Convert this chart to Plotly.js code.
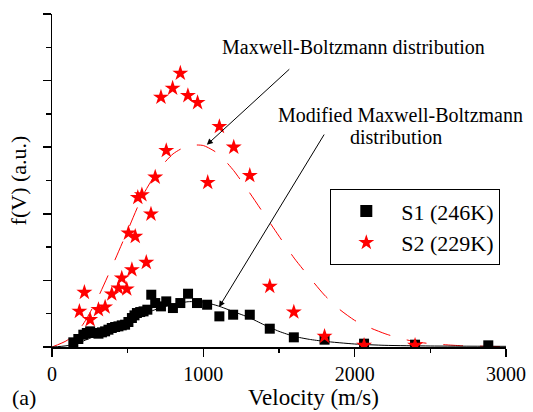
<!DOCTYPE html>
<html>
<head>
<meta charset="utf-8">
<script src="https://cdn.plot.ly/plotly-3.0.1.min.js"></script>
<style>
  html, body { margin: 0; padding: 0; background: #ffffff; }
  #chart { width: 533px; height: 412px; }
</style>
</head>
<body>
<div id="chart"></div>
<script>
// Sample S1 (246 K): velocity (m/s) and distribution value (a.u.)
const s1Velocity = [141, 174, 207, 230, 252, 280, 307, 330, 351, 373, 395, 417, 439, 461, 483, 505, 528, 545, 561, 583, 605, 630, 656, 682, 720, 755, 799, 848, 899, 958, 1025, 1106, 1197, 1307, 1439, 1598, 1801, 2062, 2399, 2883];
const s1Value    = [0.14, 0.24, 0.37, 0.42, 0.47, 0.42, 0.40, 0.44, 0.47, 0.52, 0.57, 0.60, 0.62, 0.65, 0.67, 0.75, 0.87, 0.95, 1.02, 1.05, 1.07, 1.12, 1.57, 1.32, 1.22, 1.37, 1.17, 1.32, 1.60, 1.32, 1.27, 0.92, 0.97, 0.97, 0.55, 0.29, 0.22, 0.10, 0.07, 0.05];

// Sample S2 (229 K)
const s2Velocity = [181, 214, 252, 307, 351, 395, 439, 461, 494, 505, 528, 550, 567, 594, 623, 654, 682, 720, 755, 797, 848, 898, 962, 1029, 1106, 1201, 1307, 1439, 1598, 1801, 2062, 2399];
const s2Value    = [1.07, 1.64, 0.82, 1.12, 1.20, 1.59, 1.77, 2.07, 1.74, 3.42, 2.32, 3.32, 4.49, 4.57, 2.54, 3.99, 5.10, 7.50, 5.90, 7.77, 8.22, 7.55, 7.34, 4.94, 6.62, 6.00, 5.15, 1.82, 1.05, 0.32, 0.05, 0.05];

// Modified Maxwell-Boltzmann curve fitted to S1
const modVelocity = [0, 100, 200, 300, 400, 500, 600, 700, 800, 900, 1000, 1100, 1200, 1300, 1400, 1500, 1600, 1700, 1800, 2000, 2200, 2500, 3000];
const modValue    = [0, 0.04, 0.17, 0.36, 0.57, 0.78, 0.98, 1.15, 1.28, 1.36, 1.35, 1.23, 1.06, 0.89, 0.67, 0.47, 0.32, 0.23, 0.17, 0.09, 0.05, 0.03, 0.02];

// Maxwell-Boltzmann curve for S2
const mbVelocity = [0, 100, 200, 300, 400, 500, 600, 700, 800, 900, 1000, 1100, 1200, 1300, 1400, 1500, 1600, 1700, 1800, 1900, 2000, 2100, 2200, 2300, 2400, 2500, 2700, 3000];
const mbValue    = [0, 0.2, 0.65, 1.45, 2.45, 3.5, 4.55, 5.3, 5.8, 6.05, 6.05, 5.8, 5.3, 4.67, 4.0, 3.33, 2.67, 2.1, 1.56, 1.13, 0.8, 0.58, 0.4, 0.26, 0.16, 0.1, 0.04, 0.01];

const seriesNames = ['S1 (246K)', 'S2 (229K)'];
const xTickValues = [0, 1000, 2000, 3000];
const xTickText = ['0', '1000', '2000', '3000'];

const FONT = 'Liberation Serif';

const traces = [
  {
    x: mbVelocity, y: mbValue, type: 'scatter', mode: 'lines',
    line: { color: '#ff0000', width: 1, dash: '20px,17px', shape: 'spline', smoothing: 0.6 },
    showlegend: false, hoverinfo: 'skip'
  },
  {
    x: modVelocity, y: modValue, type: 'scatter', mode: 'lines',
    line: { color: '#000000', width: 1, shape: 'spline', smoothing: 0.6 },
    showlegend: false, hoverinfo: 'skip'
  },
  {
    x: s1Velocity, y: s1Value, type: 'scatter', mode: 'markers', name: seriesNames[0],
    marker: { symbol: 'square', size: 10, color: '#000000', line: { width: 0 } }
  },
  {
    x: s2Velocity, y: s2Value, type: 'scatter', mode: 'markers', name: seriesNames[1],
    marker: { symbol: 'star', size: 12, color: '#ff0000', line: { width: 0 } }
  }
];

const layout = {
  width: 533, height: 412,
  margin: { l: 52, r: 27.3, t: 14, b: 64.7, pad: 0 },
  paper_bgcolor: '#ffffff', plot_bgcolor: '#ffffff',
  font: { family: FONT, color: '#000000', size: 20 },
  showlegend: true,
  legend: {
    x: 0.613, y: 0.474, xanchor: 'left', yanchor: 'top',
    bordercolor: '#000000', borderwidth: 1, bgcolor: '#ffffff',
    font: { family: FONT, size: 22, color: '#000000' },
    itemwidth: 60, itemsizing: 'constant', tracegroupgap: 0
  },
  xaxis: {
    range: [0, 3000], autorange: false,
    tickmode: 'array', tickvals: xTickValues, ticktext: xTickText,
    ticks: 'outside', ticklen: 8, tickwidth: 1.5, tickcolor: '#000000',
    showline: true, linewidth: 1.5, linecolor: '#000000',
    showgrid: false, zeroline: false,
    tickfont: { family: FONT, size: 20, color: '#000000' },
    minor: { tickmode: 'linear', tick0: 0, dtick: 500, ticks: 'outside', ticklen: 4, tickwidth: 1.5, tickcolor: '#000000', showgrid: false }
  },
  yaxis: {
    range: [0, 10], autorange: false,
    tickmode: 'linear', tick0: 0, dtick: 2,
    ticks: 'outside', ticklen: 8, tickwidth: 1.5, tickcolor: '#000000',
    showticklabels: false,
    showline: true, linewidth: 1.5, linecolor: '#000000',
    showgrid: false, zeroline: false,
    minor: { tickmode: 'linear', tick0: 0, dtick: 1, ticks: 'outside', ticklen: 5, tickwidth: 1.5, tickcolor: '#000000', showgrid: false },
    title: { text: 'f(V) (a.u.)', font: { family: FONT, size: 22, color: '#000000' }, standoff: 10 }
  },
  annotations: [
    { text: 'Maxwell-Boltzmann distribution', x: 1991, y: 9.02, xref: 'x', yref: 'y',
      showarrow: false, xanchor: 'center', yanchor: 'middle', font: { family: FONT, size: 20 } },
    { text: 'Modified Maxwell-Boltzmann', x: 2306, y: 6.97, xref: 'x', yref: 'y',
      showarrow: false, xanchor: 'center', yanchor: 'middle', font: { family: FONT, size: 20 } },
    { text: 'distribution', x: 2272, y: 6.32, xref: 'x', yref: 'y',
      showarrow: false, xanchor: 'center', yanchor: 'middle', font: { family: FONT, size: 20 } },
    { text: '', x: 1023, y: 6.07, xref: 'x', yref: 'y', showarrow: true,
      ax: 84, ay: -77, axref: 'pixel', ayref: 'pixel',
      arrowhead: 2, arrowsize: 1.2, arrowwidth: 1, arrowcolor: '#000000', standoff: 0, startstandoff: 0 },
    { text: '', x: 1104, y: 1.2, xref: 'x', yref: 'y', showarrow: true,
      ax: 106, ay: -174, axref: 'pixel', ayref: 'pixel',
      arrowhead: 2, arrowsize: 1.2, arrowwidth: 1, arrowcolor: '#000000', standoff: 0, startstandoff: 0 },
    { text: 'Velocity (m/s)', x: 0.577, y: -0.152, xref: 'paper', yref: 'paper',
      showarrow: false, xanchor: 'center', yanchor: 'middle', font: { family: FONT, size: 23 } },
    { text: '(a)', x: -0.0617, y: -0.152, xref: 'paper', yref: 'paper',
      showarrow: false, xanchor: 'center', yanchor: 'middle', font: { family: FONT, size: 22 } }
  ]
};

Plotly.newPlot('chart', traces, layout, { staticPlot: true, displayModeBar: false });
</script>
</body>
</html>
